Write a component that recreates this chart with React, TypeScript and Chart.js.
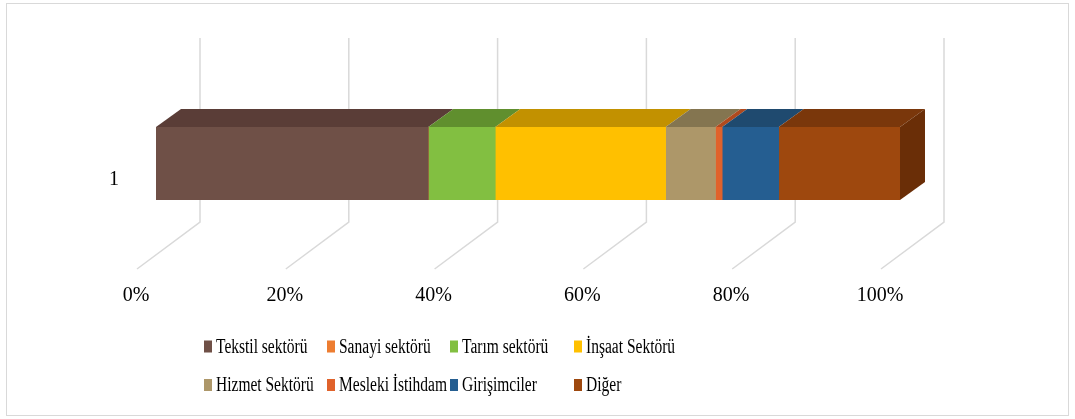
import React, { useEffect, useRef } from "react";
import { Chart, registerables } from "chart.js";

Chart.register(...registerables);

// ---- data ----
const categories = ["1"];
const seriesNames = [
  "Tekstil sektörü",
  "Sanayi sektörü",
  "Tarım sektörü",
  "İnşaat Sektörü",
  "Hizmet Sektörü",
  "Mesleki İstihdam",
  "Girişimciler",
  "Diğer",
];
const tekstil = [36.6];
const sanayi = [0];
const tarim = [9.0];
const insaat = [22.9];
const hizmet = [6.7];
const mesleki = [0.9];
const girisimciler = [7.6];
const diger = [16.3];
const seriesValues = [tekstil, sanayi, tarim, insaat, hizmet, mesleki, girisimciler, diger];

const xTickValues = [0, 20, 40, 60, 80, 100];
const xTickLabels = ["0%", "20%", "40%", "60%", "80%", "100%"];

// ---- styles ----
const frontColors = ["#6F5047", "#ED7D31", "#82BF41", "#FFC000", "#AD9769", "#E0622B", "#255E91", "#9E480E"];
const topColors = ["#5A3D37", "#B95E22", "#608F2E", "#C29100", "#847550", "#B04A1E", "#1F4A6F", "#7A370B"];
const sideColor = "#6A2E07";
const gridColor = "#D9D9D9";
const FONT = "'Liberation Serif', 'Times New Roman', serif";

// depth offsets
const BAR_DX = 25;
const BAR_DY = -18;
const WALL_DX = 44; // back wall offset from bar front
const FLOOR_DX = -19; // front floor offset from bar front
const WALL_TOP = 38;
const WALL_BOTTOM = 222;
const FLOOR_Y = 269;

const threeD = {
  id: "threeD",
  beforeDraw(chart: any) {
    const ctx = chart.ctx;
    ctx.save();
    ctx.fillStyle = "#ffffff";
    ctx.fillRect(0, 0, chart.width, chart.height);
    ctx.strokeStyle = "#D9D9D9";
    ctx.lineWidth = 1;
    ctx.strokeRect(6.5, 3.5, 1062, 412);
    ctx.restore();
  },
  beforeDatasetsDraw(chart: any) {
    const ctx = chart.ctx;
    const xs = chart.scales.x;
    ctx.save();
    ctx.strokeStyle = gridColor;
    ctx.lineWidth = 1.5;
    xTickValues.forEach((v) => {
      const px = xs.getPixelForValue(v);
      ctx.beginPath();
      ctx.moveTo(px + WALL_DX, WALL_TOP);
      ctx.lineTo(px + WALL_DX, WALL_BOTTOM);
      ctx.lineTo(px + FLOOR_DX, FLOOR_Y);
      ctx.stroke();
    });
    // tick labels
    ctx.fillStyle = "#000";
    ctx.font = `20px ${FONT}`;
    ctx.textAlign = "center";
    ctx.textBaseline = "alphabetic";
    xTickValues.forEach((v, i) => {
      const px = xs.getPixelForValue(v);
      ctx.fillText(xTickLabels[i], px + FLOOR_DX - 1, 301);
    });
    // category label
    const ys = chart.scales.y;
    categories.forEach((c, i) => {
      const py = ys.getPixelForValue(i);
      ctx.fillText(c, 114, py + 21.5);
    });
    ctx.restore();
  },
  afterDatasetsDraw(chart: any) {
    const ctx = chart.ctx;
    ctx.save();
    let lastRight: any = null;
    chart.data.datasets.forEach((ds: any, i: number) => {
      const meta = chart.getDatasetMeta(i);
      meta.data.forEach((el: any) => {
        const { x, y, base, height } = el.getProps(["x", "y", "base", "height"], true);
        const top = y - height / 2;
        const x0 = Math.min(x, base);
        const x1 = Math.max(x, base);
        if (x1 - x0 > 0.01) {
          ctx.fillStyle = topColors[i];
          ctx.beginPath();
          ctx.moveTo(x0, top);
          ctx.lineTo(x1, top);
          ctx.lineTo(x1 + BAR_DX, top + BAR_DY);
          ctx.lineTo(x0 + BAR_DX, top + BAR_DY);
          ctx.closePath();
          ctx.fill();
          lastRight = { x1, top, bottom: y + height / 2 };
        }
      });
    });
    if (lastRight) {
      const { x1, top, bottom } = lastRight;
      ctx.fillStyle = sideColor;
      ctx.beginPath();
      ctx.moveTo(x1, top);
      ctx.lineTo(x1 + BAR_DX, top + BAR_DY);
      ctx.lineTo(x1 + BAR_DX, bottom + BAR_DY);
      ctx.lineTo(x1, bottom);
      ctx.closePath();
      ctx.fill();
    }
    ctx.restore();
  },
  afterDraw(chart: any) {
    const ctx = chart.ctx;
    ctx.save();
    const colX = [204, 327, 450, 574];
    const rowBase = [352.5, 391];
    ctx.font = `20px ${FONT}`;
    ctx.textAlign = "left";
    ctx.textBaseline = "alphabetic";
    seriesNames.forEach((name, i) => {
      const cx = colX[i % 4];
      const by = rowBase[Math.floor(i / 4)];
      ctx.fillStyle = frontColors[i];
      ctx.fillRect(cx, by - 12, 8, 12);
      ctx.fillStyle = "#000";
      ctx.save();
      ctx.translate(cx + 12, by);
      ctx.scale(0.775, 1);
      ctx.fillText(name, 0, 0);
      ctx.restore();
    });
    ctx.restore();
  },
};

export default function App() {
  const ref = useRef<HTMLCanvasElement | null>(null);
  useEffect(() => {
    if (!ref.current) return;
    const chart = new Chart(ref.current, {
      type: "bar",
      data: {
        labels: categories,
        datasets: seriesNames.map((n, i) => ({
          label: n,
          data: seriesValues[i],
          backgroundColor: frontColors[i],
          borderWidth: 0,
          barPercentage: 1,
          categoryPercentage: 1,
        })),
      },
      options: {
        indexAxis: "y",
        responsive: false,
        animation: false,
        devicePixelRatio: 1,
        layout: { padding: { left: 156, right: 175, top: 127, bottom: 219 } },
        plugins: { legend: { display: false }, tooltip: { enabled: false } },
        scales: {
          x: { stacked: true, min: 0, max: 100, display: false },
          y: { stacked: true, display: false },
        },
      },
      plugins: [threeD],
    } as any);
    return () => chart.destroy();
  }, []);
  return (
    <div style={{ position: "absolute", left: 0, top: 0, width: 1075, height: 419 }}>
      <canvas ref={ref} width={1075} height={419} style={{ display: "block" }} />
    </div>
  );
}
